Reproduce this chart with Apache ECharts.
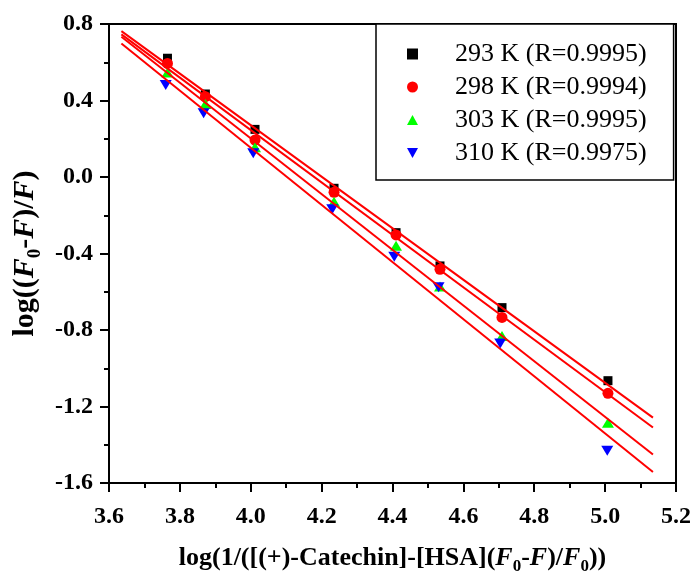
<!DOCTYPE html>
<html>
<head>
<meta charset="utf-8">
<script src="https://cdn.jsdelivr.net/npm/echarts@6/dist/echarts.min.js"></script>
<style>html,body{margin:0;padding:0;background:#fff}#c{width:693px;height:572px}</style>
</head>
<body>
<div id="c"></div>
<script>
var seriesNames = ['293 K (R=0.9995)', '298 K (R=0.9994)', '303 K (R=0.9995)', '310 K (R=0.9975)'];
var x293 = [3.765, 3.872, 4.012, 4.235, 4.410, 4.534, 4.709, 5.008];
var y293 = [0.621, 0.434, 0.249, -0.059, -0.291, -0.465, -0.683, -1.065];
var x298 = [3.765, 3.872, 4.012, 4.235, 4.410, 4.534, 4.709, 5.008];
var y298 = [0.594, 0.420, 0.193, -0.080, -0.303, -0.483, -0.734, -1.131];
var x303 = [3.765, 3.872, 4.012, 4.235, 4.410, 4.534, 4.709, 5.008];
var y303 = [0.547, 0.382, 0.155, -0.129, -0.359, -0.573, -0.831, -1.285];
var x310 = [3.760, 3.867, 4.007, 4.230, 4.405, 4.530, 4.704, 5.006];
var y310 = [0.481, 0.333, 0.124, -0.169, -0.417, -0.577, -0.870, -1.431];
// fitted line end points
var fitX = [3.635, 5.135];
var fit293 = [0.763, -1.258];
var fit298 = [0.746, -1.310];
var fit303 = [0.733, -1.451];
var fit310 = [0.698, -1.542];
var xTicks = [3.6, 3.8, 4.0, 4.2, 4.4, 4.6, 4.8, 5.0, 5.2];
var yTicks = [-1.6, -1.2, -0.8, -0.4, 0.0, 0.4, 0.8];

var FF = "'Liberation Serif','Times New Roman',serif";
function pairs(xs, ys) { return xs.map(function (x, i) { return [x, ys[i]]; }); }

var square = 'path://M0,0 L10,0 L10,10 L0,10 Z';
var upTri = 'path://M5,0 L10,9 L0,9 Z';
var downTri = 'path://M0,0 L10,0 L5,9 Z';
var colors = ['#000000', '#ff0000', '#00ff00', '#0000ff'];
var symbols = [square, 'circle', upTri, downTri];
var sizes = [[9, 9], [11, 11], [12, 10], [12, 10]];
var xs = [x293, x298, x303, x310];
var ys = [y293, y298, y303, y310];
var fits = [fit293, fit298, fit303, fit310];

var series = [];
for (var k = 0; k < 4; k++) {
  series.push({
    name: seriesNames[k], type: 'scatter', data: pairs(xs[k], ys[k]),
    symbol: symbols[k], symbolSize: sizes[k], itemStyle: { color: colors[k], opacity: 1 },
    z: 2, silent: true
  });
}
for (var k2 = 0; k2 < 4; k2++) {
  series.push({
    name: 'fit' + k2, type: 'line', data: pairs(fitX, fits[k2]), symbol: 'none',
    lineStyle: { color: '#ff0000', width: 2 }, z: 3, silent: true, animation: false
  });
}

function rich(size) {
  return {
    b: { fontFamily: FF, fontWeight: 'bold', fontSize: size, color: '#000' },
    i: { fontFamily: FF, fontWeight: 'bold', fontStyle: 'italic', fontSize: size, color: '#000' },
    s: { fontFamily: FF, fontWeight: 'bold', fontSize: Math.round(size * 0.64), color: '#000', padding: [Math.round(size * 0.64), 0, 0, 0] }
  };
}

var legendData = seriesNames.map(function (n, i) { return { name: n, icon: symbols[i] }; });

var chart = echarts.init(document.getElementById('c'));
chart.setOption({
  animation: false,
  backgroundColor: '#fff',
  grid: { left: 109, top: 24, right: 17, bottom: 89, containLabel: false, outerBoundsMode: 'none',
    show: true, borderColor: '#000', borderWidth: 2, backgroundColor: 'transparent' },
  legend: {
    data: legendData, orient: 'vertical', left: 376, top: 24,
    padding: [17, 27, 14, 31], itemGap: 7, itemWidth: 11, itemHeight: 11,
    borderColor: '#000', borderWidth: 1.5, backgroundColor: '#fff',
    textStyle: { fontFamily: FF, fontSize: 26, color: '#000', padding: [0, 0, 0, 32] }
  },
  xAxis: {
    type: 'value', min: 3.6, max: 5.2, interval: 0.2,
    name: '{b|log(1/([(+)-Catechin]-[HSA](}{i|F}{s|0}{b|-}{i|F}{b|)/}{i|F}{s|0}{b|))}',
    nameLocation: 'middle', nameGap: 58, nameTextStyle: { rich: rich(26) },
    axisLine: { show: true, onZero: false, lineStyle: { color: '#000', width: 2 } },
    axisTick: { show: true, inside: false, length: 9, lineStyle: { color: '#000', width: 2 } },
    minorTick: { show: true, splitNumber: 2, length: 5, lineStyle: { color: '#000', width: 2 } },
    splitLine: { show: false },
    axisLabel: { margin: 22, fontFamily: FF, fontWeight: 'bold', fontSize: 24, color: '#000',
      formatter: function (v) { return v.toFixed(1); } }
  },
  yAxis: {
    type: 'value', min: -1.6, max: 0.8, interval: 0.4,
    name: '{b|log((}{i|F}{s|0}{b|-}{i|F}{b|)/}{i|F}{b|)}',
    nameLocation: 'middle', nameGap: 62, nameRotate: 90, nameTextStyle: { rich: rich(30) },
    axisLine: { show: true, onZero: false, lineStyle: { color: '#000', width: 2 } },
    axisTick: { show: true, inside: false, length: 9, lineStyle: { color: '#000', width: 2 } },
    minorTick: { show: true, splitNumber: 2, length: 5, lineStyle: { color: '#000', width: 2 } },
    splitLine: { show: false },
    axisLabel: { margin: 16, fontFamily: FF, fontWeight: 'bold', fontSize: 24, color: '#000',
      formatter: function (v) { return v.toFixed(1); } }
  },
  series: series
});
</script>
</body>
</html>
